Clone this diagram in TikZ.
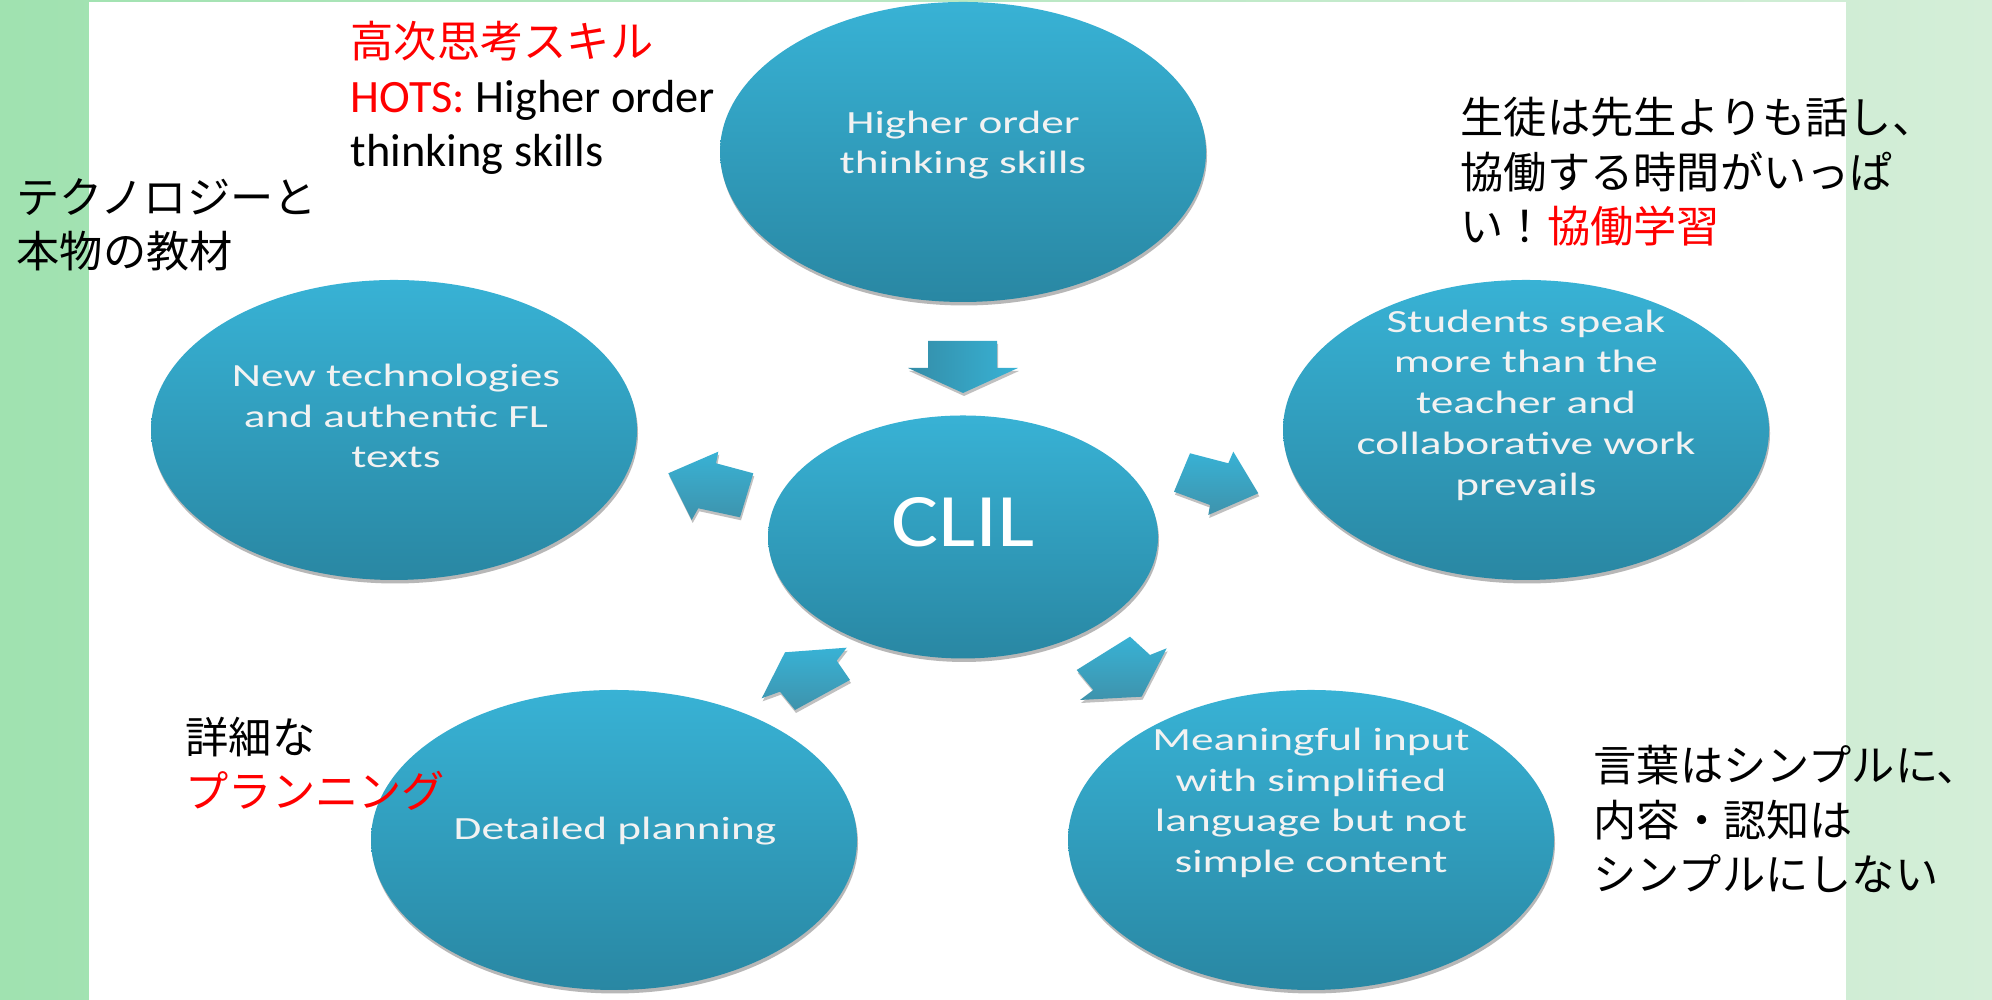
\documentclass[tikz,border=0pt]{standalone}
\usepackage{fontspec}
\usetikzlibrary{shapes.geometric,shadows}
\setmainfont{Carlito}
\newfontfamily\jpfont{Noto Sans CJK JP}
\newfontfamily\bubblefont[FakeStretch=1.4]{Carlito}
\newfontfamily\clilfont[FakeStretch=1.17]{Carlito}
\definecolor{bubbletop}{RGB}{56,178,213}
\definecolor{bubblebot}{RGB}{41,135,163}
\definecolor{bubbletext}{RGB}{242,242,242}
\definecolor{bgleft}{RGB}{160,226,176}
\definecolor{bgright}{RGB}{212,238,216}
\definecolor{notered}{RGB}{255,0,0}

\tikzset{
  bubble/.style={ellipse, inner sep=0pt, minimum width=4.86cm, minimum height=3cm,
    top color=bubbletop, bottom color=bubblebot,
    drop shadow={shadow xshift=0.01cm, shadow yshift=-0.035cm, opacity=0.4, fill=black!70}},
  bubbletxt/.style={text=bubbletext, align=center, inner sep=0pt,
    font=\bubblefont\fontsize{9.2}{11.6}\selectfont},
  blockarrow/.style={top color=bubbletop, bottom color=bubblebot!90,
    drop shadow={shadow xshift=0.01cm, shadow yshift=-0.03cm, opacity=0.35, fill=black!70}},
  note/.style={anchor=base west, align=left, inner sep=0pt,
    font=\jpfont\fontsize{12.3}{15.6}\selectfont}
}

\begin{document}
\begin{tikzpicture}
  \useasboundingbox (0,0) rectangle (19.92,10);
  % Background
  \shade[left color=bgleft, right color=bgright] (0,0) rectangle (19.92,10);
  \fill[white] (0.89,0) rectangle (18.46,9.98);

  % Bubbles
  \node[bubble] (hots) at (9.63,8.48) {};
  \node[bubble] (tech) at (3.94,5.70) {};
  \node[bubble] (collab) at (15.26,5.70) {};
  \node[bubble] (plan) at (6.14,1.60) {};
  \node[bubble] (simple) at (13.11,1.60) {};
  \node[bubble, minimum width=3.9cm, minimum height=2.43cm] (clil) at (9.63,4.63) {};

  \node[bubbletxt] (hots-t) at (9.63,8.55) {Higher order\\thinking skills};
  \node[bubbletxt] (tech-t) at (3.96,5.84) {New technologies\\and authentic FL\\texts};
  \node[bubbletxt] (collab-t) at (15.26,5.95) {Students speak\\more than the\\teacher and\\collaborative work\\prevails};
  \node[bubbletxt] (plan-t) at (6.15,1.69) {Detailed planning};
  \node[bubbletxt] (simple-t) at (13.11,1.97) {Meaningful input\\with simplified\\language but not\\simple content};
  \node[text=white, font=\clilfont\fontsize{21.5}{24}\selectfont] (clil-t) at (9.63,4.78) {CLIL};

  % Arrows
  \path[blockarrow, left color=bubblebot!95, right color=bubbletop] (9.28,6.59) -- (9.97,6.59) -- (9.97,6.32) -- (10.18,6.32)
    -- (9.63,6.07) -- (9.08,6.32) -- (9.28,6.32) -- cycle;
  \path[blockarrow] (6.683,5.267) -- (7.183,5.483) -- (7.16,5.367) -- (7.533,5.267)
    -- (7.40,4.827) -- (6.983,4.917) -- (6.917,4.80) -- cycle;
  \path[blockarrow] (11.90,5.467) -- (12.283,5.367) -- (12.333,5.483) -- (12.583,5.067)
    -- (12.083,4.85) -- (12.10,4.95) -- (11.74,5.083) -- cycle;
  \path[blockarrow] (7.85,3.477) -- (8.467,3.523) -- (8.367,3.393) -- (8.50,3.20)
    -- (7.95,2.90) -- (7.80,3.083) -- (7.617,3.017) -- cycle;
  \path[blockarrow] (11.30,3.633) -- (11.50,3.45) -- (11.667,3.517) -- (11.417,3.033)
    -- (10.80,3.00) -- (10.933,3.10) -- (10.767,3.30) -- cycle;

  % Notes (anchored at the baseline of the last line)
  \node[note] (hotsnote) at (3.50,8.33) {{\color{notered}高次思考スキル}\\
    {\rmfamily\fontsize{13.2}{16.2}\selectfont\textcolor{notered}{HOTS:} Higher order}\\
    {\rmfamily\fontsize{13.2}{16.2}\selectfont thinking skills}};
  \node[note] (technote) at (0.16,7.32) {テクノロジーと\\本物の教材};
  \node[note] (collabnote) at (14.60,7.57) {生徒は先生よりも話し、\\協働する時間がいっぱ\\い！{\color{notered}協働学習}};
  \node[note] (plannote) at (1.85,1.92) {詳細な\\{\color{notered}プランニング}};
  \node[note] (simplenote) at (15.93,1.09) {言葉はシンプルに、\\内容・認知は\\シンプルにしない};
\end{tikzpicture}
\end{document}
